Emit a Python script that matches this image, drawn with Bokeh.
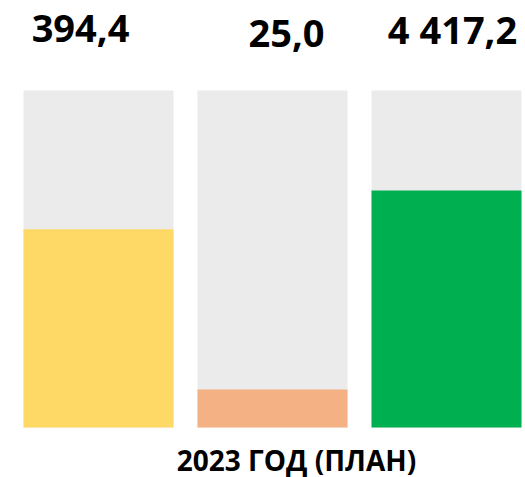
from bokeh.plotting import figure
from bokeh.models import Range1d, ColumnDataSource
from bokeh.core.properties import value
from bokeh.embed import file_html
from bokeh.resources import INLINE

# ---- data ----
categories = ["Показатель 1", "Показатель 2", "Показатель 3"]
labels = ["394,4", "25,0", "4 417,2"]
fill_share = [0.588, 0.113, 0.703]      # filled part of each bar
full_share = [1.0, 1.0, 1.0]            # grey background bar
colors = ["#FFD966", "#F4B183", "#00B050"]
footer = "2023 ГОД (ПЛАН)"

# ---- styling / layout ----
label_dx = [-18, 14, 6]
label_dy = [-62, -57, -62]

xs = list(range(len(categories)))
W, H = 525, 477
px_per_x = 174.0
px_per_y = 337.0
x_start = -98 / px_per_x
y_end = 1 + 90 / px_per_y

p = figure(width=W, height=H, output_backend="svg", toolbar_location=None,
           x_range=Range1d(x_start, x_start + W / px_per_x),
           y_range=Range1d(y_end - H / px_per_y, y_end),
           min_border=0, min_border_left=0, min_border_right=0,
           min_border_top=0, min_border_bottom=0)
p.axis.visible = False
p.grid.visible = False
p.outline_line_color = None
p.background_fill_color = "white"
p.border_fill_color = "white"

src = ColumnDataSource(dict(x=xs, full=full_share, fill=fill_share, color=colors,
                            label=labels, dx=label_dx, dy=label_dy,
                            y0=[0.0] * len(xs)))

bw = 150 / px_per_x
p.vbar(x="x", top="full", bottom="y0", width=bw, source=src,
       fill_color="#EBEBEB", line_color=None)
p.vbar(x="x", top="fill", bottom="y0", width=bw, source=src,
       fill_color="color", line_color=None)

p.text(x="x", y="full", text="label", x_offset="dx", y_offset="dy", source=src,
       text_font=value("Open Sans"), text_font_style="bold",
       text_font_size="38px", text_color="#000000",
       text_align="center", text_baseline="alphabetic")

p.text(x=[xs[1]], y=[0.0], text=[footer], x_offset=24, y_offset=32,
       text_font=value("Open Sans"), text_font_style="bold",
       text_font_size="28px", text_color="#000000",
       text_align="center", text_baseline="alphabetic")

open("out.html", "w").write(file_html(p, INLINE))
